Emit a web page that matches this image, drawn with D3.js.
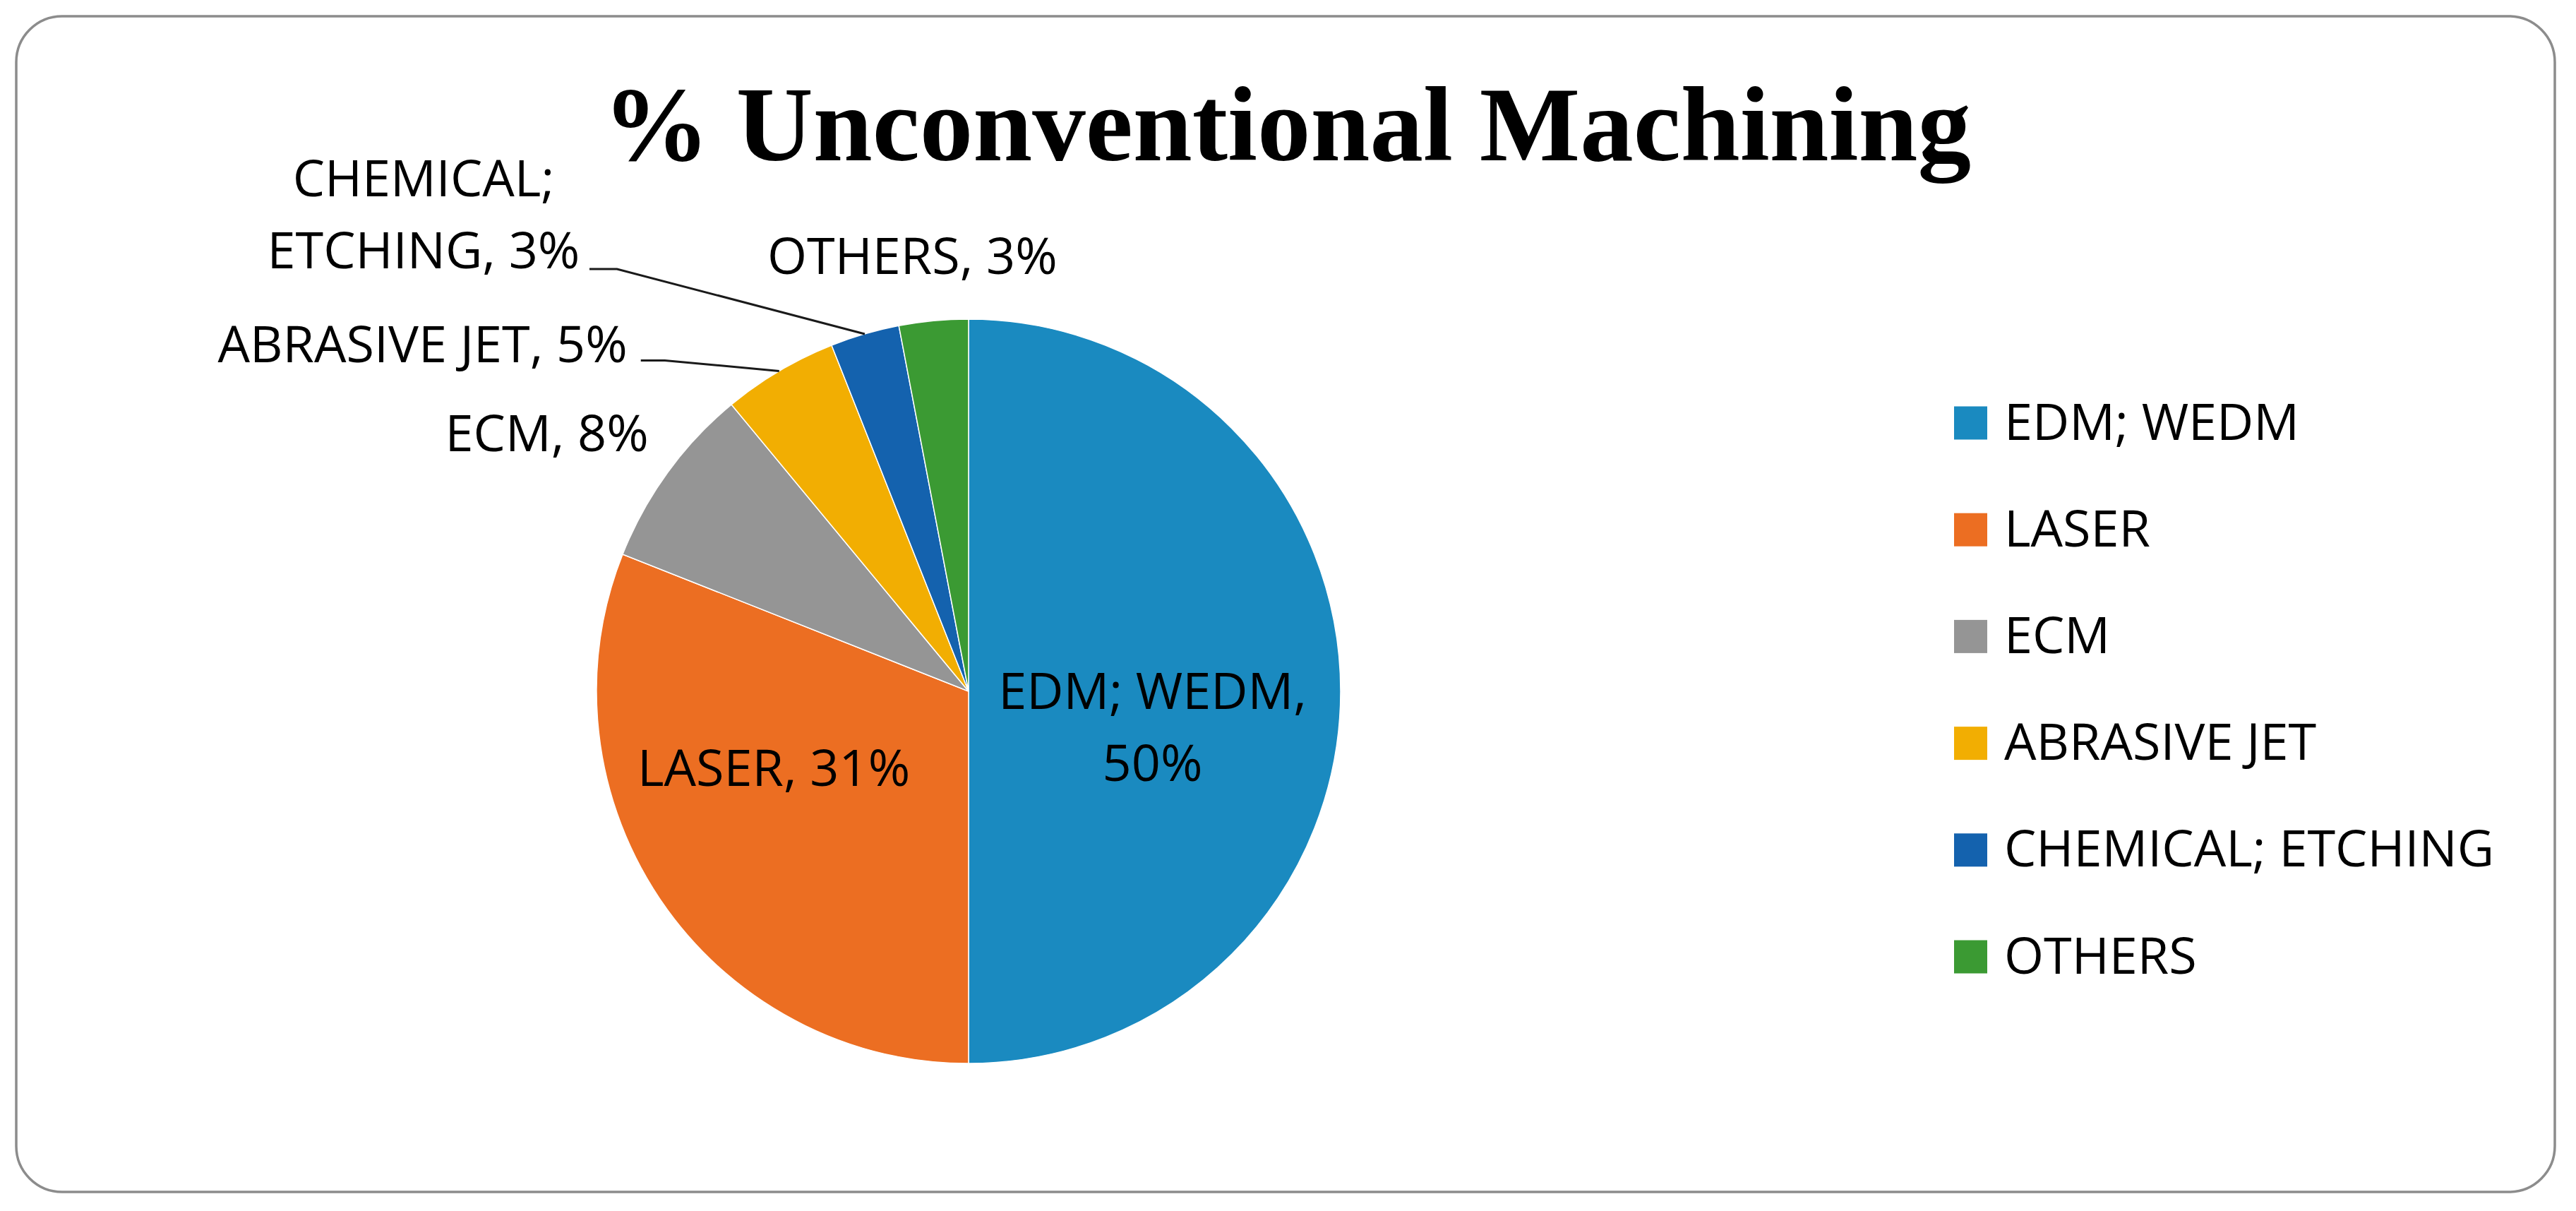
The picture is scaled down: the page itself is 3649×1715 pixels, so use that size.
<!DOCTYPE html>
<html>
<head>
<meta charset="utf-8">
<script src="https://cdn.jsdelivr.net/npm/d3@7"></script>
<style>
  body { margin: 0; background: #fff; }
  svg { display: block; }
</style>
</head>
<body>
<svg id="chart" width="3649" height="1715"></svg>
<script>
// chart data
const categories = ["EDM; WEDM", "LASER", "ECM", "ABRASIVE JET", "CHEMICAL; ETCHING", "OTHERS"];
const shares = [50, 31, 8, 5, 3, 3];
const colors = ["#1a8ac0", "#ec6e22", "#959595", "#f2ae02", "#1462ae", "#3b9a33"];
const titleText = "% Unconventional Machining";

const W = 3649, H = 1715;
const cx = 1372, cy = 979, radius = 527;
const labelFont = 72;

var svg = d3.select("#chart");

// outer frame
svg.append("rect")
    .attr("x", 23).attr("y", 23)
    .attr("width", 3596).attr("height", 1665)
    .attr("rx", 65).attr("ry", 65)
    .style("fill", "#fff")
    .style("stroke", "#8c8c8c")
    .style("stroke-width", 3.5);

// title
svg.append("text")
    .attr("x", 1823)
    .attr("y", 227)
    .attr("text-anchor", "middle")
    .style("font-family", "'Liberation Serif', 'Times New Roman', serif")
    .style("font-weight", "bold")
    .style("font-size", "151px")
    .style("fill", "#000")
    .text(titleText);

const color = d3.scaleOrdinal().domain(categories).range(colors);

const rows = categories.map(function (c, i) {
    return { name: c, value: shares[i] };
});

const pie = d3.pie().sort(null).value(function (d) { return d.value; });
const arcs = pie(rows);

const arc = d3.arc().innerRadius(0).outerRadius(radius);
const edgeArc = d3.arc().innerRadius(radius).outerRadius(radius);
const midArc = d3.arc().innerRadius(radius * 0.5).outerRadius(radius * 0.5);

var g = svg.append("g").attr("transform", "translate(" + cx + "," + cy + ")");

// slices
g.selectAll("path.slice")
    .data(arcs)
    .enter()
    .append("path")
    .attr("class", "slice")
    .attr("d", arc)
    .style("fill", function (d) { return color(d.data.name); })
    .style("stroke", "#ffffff")
    .style("stroke-width", 1.5);

// label placement relative to the slice (inside: from mid-radius centroid, outside: from edge point)
const labelLayout = {
    "EDM; WEDM": { inside: true, anchor: "middle", dx: -3, dy: 25, lines: ["EDM; WEDM,", "{v}"] },
    "LASER": { inside: true, anchor: "middle", dx: -58, dy: -14, lines: ["LASER, {v}"] },
    "ECM": { inside: false, anchor: "end", dx: -27, dy: -30, lines: ["ECM, {v}"] },
    "ABRASIVE JET": { inside: false, anchor: "end", dx: -215, dy: -12, lines: ["ABRASIVE JET, {v}"],
        leader: [[-196, -15], [-162, -15]] },
    "CHEMICAL; ETCHING": { inside: false, anchor: "middle", dx: -625, dy: -195, lines: ["CHEMICAL;", "ETCHING, {v}"],
        leader: [[-390, -92], [-351, -92]] },
    "OTHERS": { inside: false, anchor: "middle", dx: -30, dy: -66, lines: ["OTHERS, {v}"] }
};
const lineGap = 102;

arcs.forEach(function (d) {
    const lay = labelLayout[d.data.name];
    const p = lay.inside ? midArc.centroid(d) : edgeArc.centroid(d);
    const tx = p[0] + lay.dx, ty = p[1] + lay.dy;

    if (lay.leader) {
        const pts = lay.leader.map(function (o) { return [p[0] + o[0], p[1] + o[1]]; });
        pts.push(p);
        g.append("path")
            .attr("d", d3.line()(pts))
            .style("fill", "none")
            .style("stroke", "#1a1a1a")
            .style("stroke-width", 3);
    }

    const t = g.append("text")
        .attr("text-anchor", lay.anchor)
        .style("font-family", "'Open Sans', 'Noto Sans', sans-serif")
        .style("font-size", labelFont + "px")
        .style("fill", "#000");
    lay.lines.forEach(function (ln, i) {
        t.append("tspan")
            .attr("x", tx)
            .attr("y", ty + i * lineGap)
            .text(ln.replace("{v}", d.data.value + "%"));
    });
});

// legend
const legendY = d3.scalePoint().domain(categories).range([599, 1355]);
const legendX = 2768;
const sw = 47;

var legend = svg.append("g");
legend.selectAll("rect")
    .data(categories)
    .enter()
    .append("rect")
    .attr("x", legendX)
    .attr("y", function (d) { return legendY(d) - sw / 2; })
    .attr("width", sw)
    .attr("height", sw)
    .style("fill", function (d) { return color(d); });

legend.selectAll("text")
    .data(categories)
    .enter()
    .append("text")
    .attr("x", legendX + sw + 24)
    .attr("y", function (d) { return legendY(d) + sw / 2; })
    .style("font-family", "'Open Sans', 'Noto Sans', sans-serif")
    .style("font-size", labelFont + "px")
    .style("fill", "#000")
    .text(function (d) { return d; });
</script>
</body>
</html>
